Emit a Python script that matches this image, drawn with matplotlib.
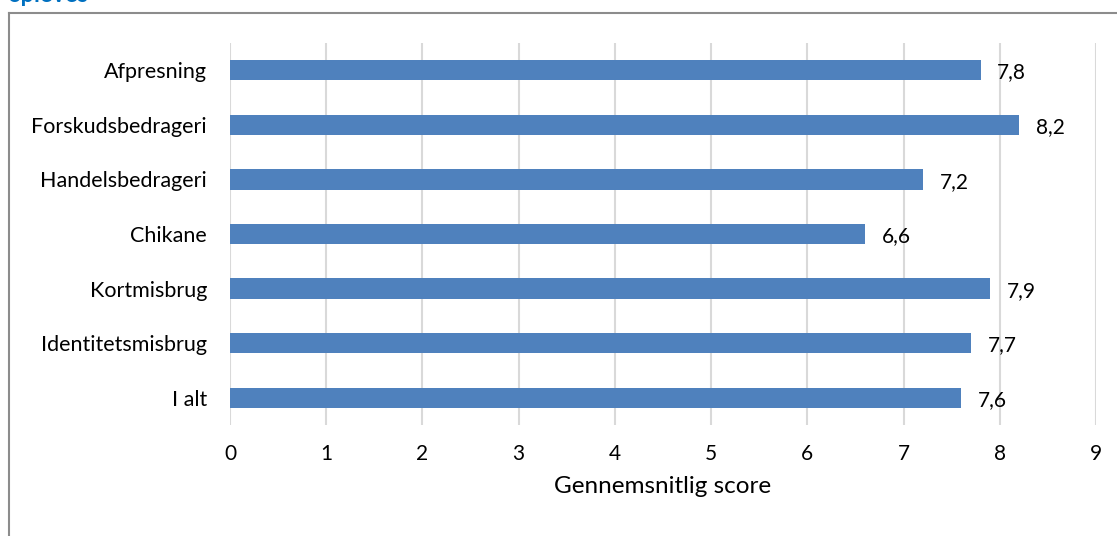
import matplotlib.pyplot as plt

categories = ["Afpresning", "Forskudsbedrageri", "Handelsbedrageri", "Chikane",
              "Kortmisbrug", "Identitetsmisbrug", "I alt"]
scores = [7.8, 8.2, 7.2, 6.6, 7.9, 7.7, 7.6]
xticks = [0, 1, 2, 3, 4, 5, 6, 7, 8, 9]
xlabel = "Gennemsnitlig score"
title = "opleves"

plt.rcParams['font.family'] = ['Lato', 'DejaVu Sans']

W, H = 1117, 536
fig = plt.figure(figsize=(W / 100, H / 100), dpi=100)

# outer frame (open to the right and bottom)
fig.add_artist(plt.Line2D([8.5 / W, 8.5 / W], [0, 1 - 13 / H], transform=fig.transFigure,
                          color="#8c8c8c", lw=1.5))
fig.add_artist(plt.Line2D([8.5 / W, 1], [1 - 13 / H, 1 - 13 / H], transform=fig.transFigure,
                          color="#8c8c8c", lw=1.5))

# title partly outside the top edge
fig.text(7 / W, 1 - 1.5 / H, title, color="#0070C0", fontsize=17, fontweight="bold",
         va="baseline", ha="left")

ax = fig.add_axes([230 / W, 1 - 425 / H, (1096 - 230) / W, (425 - 43) / H])
y = list(range(len(categories)))
ax.barh(y, scores, height=0.37, color="#4F81BD", zorder=3)
for yi, v in zip(y, scores):
    ax.text(v + 0.175, yi + 0.04, f"{v:.1f}".replace(".", ","), va="center", ha="left",
            fontsize=15, color="#000000")

ax.set_xlim(0, 9)
ax.set_ylim(len(categories) - 0.5, -0.5)
ax.set_xticks(xticks)
ax.set_yticks(y)
ax.set_yticklabels(categories, fontsize=15.5)
ax.tick_params(axis="x", labelsize=15, length=0, pad=14)
ax.tick_params(axis="y", length=0, pad=16.5)
ax.xaxis.grid(True, color="#d9d9d9", lw=1.5, zorder=0)
for s in ax.spines.values():
    s.set_visible(False)
ax.set_xlabel(xlabel, fontsize=17.5, labelpad=8)

fig.savefig("out.png", dpi=100)
